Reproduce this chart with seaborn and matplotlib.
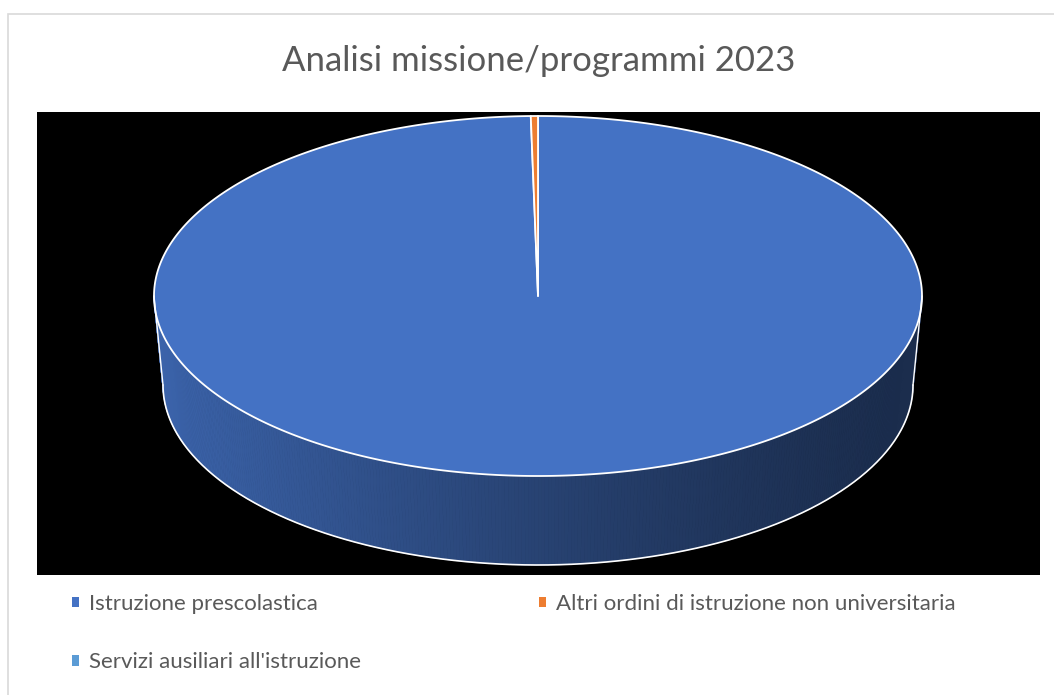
import numpy as np
import matplotlib
matplotlib.use("Agg")
import matplotlib.pyplot as plt
from matplotlib.patches import Polygon, Rectangle, Patch
from matplotlib.colors import to_rgb
import seaborn as sns

# ---- data ----
categories = ["Istruzione prescolastica",
              "Altri ordini di istruzione non universitaria",
              "Servizi ausiliari all'istruzione"]
values = [99.7, 0.3, 0.0]
colors = ["#4472C4", "#ED7D31", "#5B9BD5"]
title = "Analisi missione/programmi 2023"

sns.set_theme(style="white")
plt.rcParams['font.family'] = ['Lato', 'DejaVu Sans']

W, H = 1054, 695
fig = plt.figure(figsize=(W / 100, H / 100), dpi=100)
fig.patch.set_facecolor("white")

# chart border (extends beyond right and bottom edges)
fig.patches.append(Rectangle((7.5 / W, -0.5), 2, 1.5 - 13.5 / H, transform=fig.transFigure,
                             fill=False, edgecolor="#D9D9D9", lw=1.2))

# plot area (pixel-like coordinates)
x0, x1, y0, y1 = 37, 1040, 112, 575
ax = fig.add_axes([x0 / W, 1 - y1 / H, (x1 - x0) / W, (y1 - y0) / H])
ax.set_facecolor("black")
ax.set_xlim(x0, x1)
ax.set_ylim(y1, y0)
for s in ax.spines.values():
    s.set_visible(False)
ax.set_xticks([]); ax.set_yticks([])

# pie geometry
cx, cy, rx, ry = 538, 296, 384, 180
bcx, bcy, brx, bry = 538, 385, 375, 180

def top_pt(t):
    return cx + rx * np.cos(t), cy - ry * np.sin(t)

def bot_pt(t):
    return bcx + brx * np.cos(t), bcy - bry * np.sin(t)

fr = np.array(values, dtype=float) / np.sum(values)
starts = np.pi / 2 - 2 * np.pi * np.concatenate([[0], np.cumsum(fr)[:-1]])
ends = starts - 2 * np.pi * fr

# side walls (front half)
xmin, xmax = cx - rx, cx + rx
for i, (a0, a1) in enumerate(zip(starts, ends)):
    if fr[i] <= 0:
        continue
    base = np.array(to_rgb(colors[i]))
    ts = np.linspace(a0, a1, max(4, int(abs(a0 - a1) / (2 * np.pi) * 720)))
    for ta, tb in zip(ts[:-1], ts[1:]):
        tm = (ta + tb) / 2
        if np.sin(tm) > 0:
            continue
        xm = top_pt(tm)[0]
        u = (xm - xmin) / (xmax - xmin)
        f = 0.39 + 0.48 * (1 - u) ** 1.3
        col = np.clip(base * f, 0, 1)
        pts = [top_pt(ta), top_pt(tb), bot_pt(tb), bot_pt(ta)]
        ax.add_patch(Polygon(pts, closed=True, facecolor=col, edgecolor=col, lw=0.6))
# wall outline
tt = np.linspace(np.pi, 2 * np.pi, 300)
bx, by = bot_pt(tt)
ax.plot(bx, by, color="white", lw=1.2)
ax.plot([top_pt(np.pi)[0], bot_pt(np.pi)[0]], [top_pt(np.pi)[1], bot_pt(np.pi)[1]], color="white", lw=1.0)
ax.plot([top_pt(0)[0], bot_pt(0)[0]], [top_pt(0)[1], bot_pt(0)[1]], color="white", lw=1.0)

# top face
for i, (a0, a1) in enumerate(zip(starts, ends)):
    if fr[i] <= 0:
        continue
    ts = np.linspace(a0, a1, max(3, int(abs(a0 - a1) / (2 * np.pi) * 720)))
    px, py = top_pt(ts)
    pts = np.vstack([[cx, cy], np.column_stack([px, py])])
    ax.add_patch(Polygon(pts, closed=True, facecolor=colors[i], edgecolor="white",
                         lw=1.3, joinstyle="round"))

# title
fig.text(538.5 / W, 1 - 61 / H, title, ha="center", va="center",
         fontsize=25, color="#595959")

# legend: row-wise order like Excel (2 columns)
handles = [Patch(facecolor=c, edgecolor="none") for c in colors]
order = [0, 2, 1]
leg = fig.legend([handles[k] for k in order], [categories[k] for k in order],
                 ncol=2, loc="upper left", bbox_to_anchor=(72 / W, 1 - 594 / H),
                 frameon=False, fontsize=16, labelcolor="#595959",
                 handlelength=0.33, handleheight=0.33, handletextpad=0.45,
                 labelspacing=1.73, columnspacing=8.0, borderaxespad=0,
                 borderpad=0)

fig.savefig("out.png", dpi=100, facecolor="white")
